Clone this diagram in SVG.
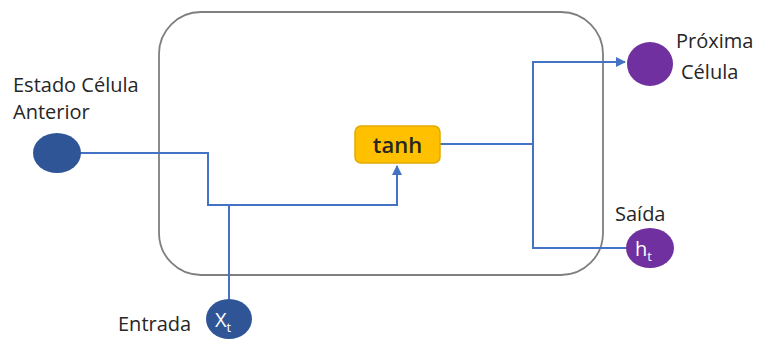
<svg xmlns="http://www.w3.org/2000/svg" width="757" height="340" viewBox="0 0 757 340">
  <style>
    .lbl { font-family: "Open Sans", "Liberation Sans", sans-serif; font-size: 20px; fill: #262626; }
    .wire { fill: none; stroke: #4472C4; stroke-width: 2; }
    .sym { font-family: "Open Sans", "Liberation Sans", sans-serif; fill: #ffffff; }
  </style>
  <defs>
    <marker id="arrow" viewBox="0 0 10 10" refX="9" refY="5" markerWidth="5" markerHeight="5" orient="auto">
      <path d="M0,0 L10,5 L0,10 z" fill="#4472C4"/>
    </marker>
  </defs>
  <rect width="757" height="340" fill="#ffffff"/>

  <!-- cell boundary -->
  <g id="cell">
    <rect x="159" y="12" width="444" height="263" rx="42" ry="42" fill="none" stroke="#7f7f7f" stroke-width="1.8"/>
  </g>

  <!-- connectors -->
  <g id="connectors">
    <polyline class="wire" points="80,153 208,153 208,205 397,205 397,166" marker-end="url(#arrow)"/>
    <line class="wire" x1="229" y1="299" x2="229" y2="205"/>
    <polyline class="wire" points="440,144 533,144 533,62 625,62" marker-end="url(#arrow)"/>
    <polyline class="wire" points="533,144 533,248 627,248"/>
  </g>

  <g id="prev-cell">
    <ellipse cx="57" cy="153" rx="24" ry="20" fill="#2F5597"/>
    <text class="lbl" x="13" y="92">Estado Célula</text>
    <text class="lbl" x="13" y="119">Anterior</text>
  </g>

  <g id="tanh">
    <rect x="355" y="126" width="85" height="37" rx="6" ry="6" fill="#FFC000" stroke="#E3A900" stroke-width="1.5"/>
    <text x="397.5" y="153" text-anchor="middle" font-family="Open Sans, Liberation Sans, sans-serif" font-size="22" font-weight="600" fill="#262626">tanh</text>
  </g>

  <g id="next-cell">
    <ellipse cx="650" cy="64" rx="23" ry="22" fill="#7030A0"/>
    <text class="lbl" x="676" y="48">Próxima</text>
    <text class="lbl" x="681" y="79">Célula</text>
  </g>

  <g id="output">
    <ellipse cx="650" cy="248" rx="24" ry="20" fill="#7030A0"/>
    <text class="sym" x="635" y="256" font-size="20">h<tspan font-size="13" dy="5">t</tspan></text>
    <text class="lbl" x="615" y="221">Saída</text>
  </g>

  <g id="input">
    <ellipse cx="229" cy="319" rx="23" ry="20" fill="#2F5597"/>
    <text class="sym" x="215" y="327" font-size="20">X<tspan font-size="13" dy="5">t</tspan></text>
    <text class="lbl" x="118" y="331">Entrada</text>
  </g>
</svg>
